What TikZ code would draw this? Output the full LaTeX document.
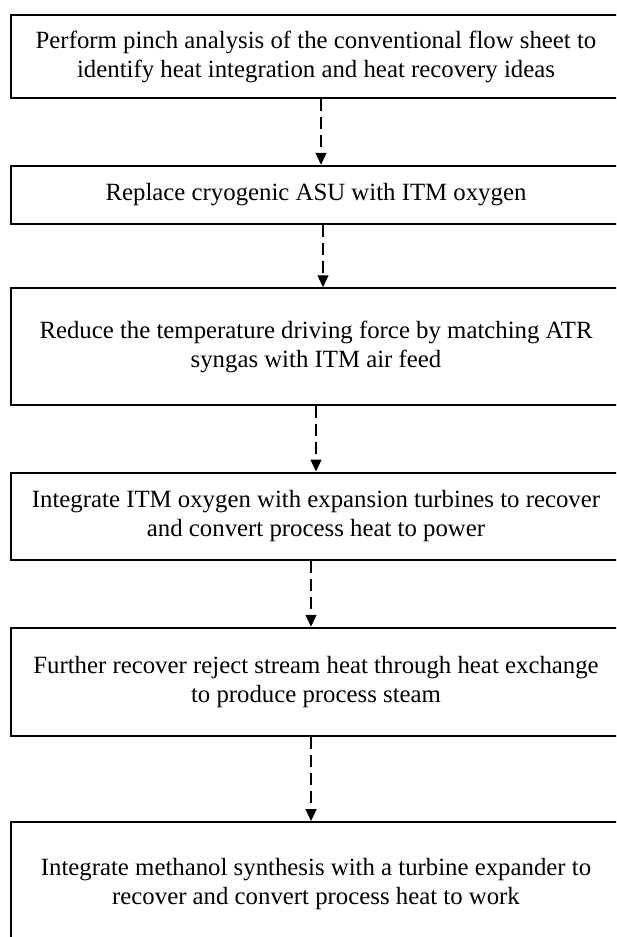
\documentclass[tikz,border=0pt]{standalone}
\usepackage{fontspec}
\setmainfont{Liberation Serif}
\usetikzlibrary{arrows.meta}
\begin{document}
\begin{tikzpicture}[x=1pt,y=-1pt,
  stepbox/.style={draw=black, line width=2pt, rectangle, minimum width=610pt, inner sep=0pt,
    align=center, font=\fontsize{24.8pt}{29pt}\selectfont},
  flowarrow/.style={draw=black, line width=1.3pt, dash pattern=on 12pt off 6pt,
    -{Triangle[width=11pt,length=12pt]}}]
\useasboundingbox (0,0) rectangle (616,937);
\clip (0,0) rectangle (616,937);
\node[stepbox, minimum height=83.5pt] (b1) at (316,56.5)
  {Perform pinch analysis of the conventional flow sheet to\\identify heat integration and heat recovery ideas};
\node[stepbox, minimum height=58.5pt] (b2) at (316,195)
  {Replace cryogenic ASU with ITM oxygen};
\node[stepbox, minimum height=116.5pt] (b3) at (316,346.5)
  {Reduce the temperature driving force by matching ATR\\syngas with ITM air feed};
\node[stepbox, minimum height=87pt] (b4) at (316,516)
  {Integrate ITM oxygen with expansion turbines to recover\\and convert process heat to power};
\node[stepbox, minimum height=108.5pt] (b5) at (316,682)
  {Further recover reject stream heat through heat exchange\\to produce process steam};
\node[stepbox, minimum height=124pt] (b6) at (316,884)
  {Integrate methanol synthesis with a turbine expander to\\recover and convert process heat to work};
\draw[flowarrow] ([xshift=5pt]b1.south) -- ([xshift=5pt]b2.north);
\draw[flowarrow] ([xshift=7pt]b2.south) -- ([xshift=7pt]b3.north);
\draw[flowarrow] ([xshift=0pt]b3.south) -- ([xshift=0pt]b4.north);
\draw[flowarrow] ([xshift=-5pt]b4.south) -- ([xshift=-5pt]b5.north);
\draw[flowarrow] ([xshift=-5pt]b5.south) -- ([xshift=-5pt]b6.north);
\end{tikzpicture}
\end{document}
